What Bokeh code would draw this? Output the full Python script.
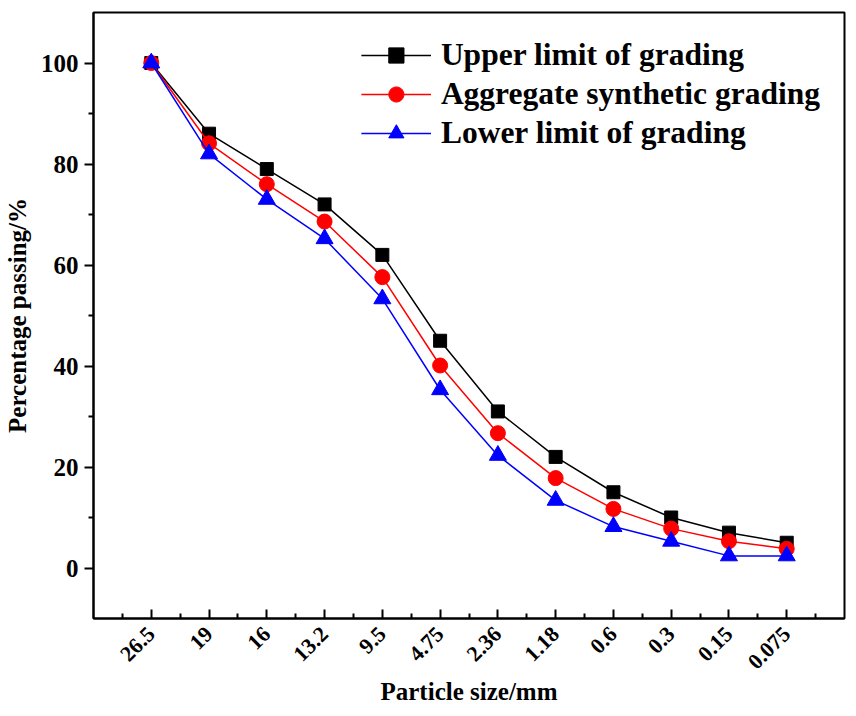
import math
from bokeh.plotting import figure
from bokeh.models import Range1d, FixedTicker, Legend, LegendItem
from bokeh.embed import file_html
from bokeh.resources import INLINE

sizes = ["26.5", "19", "16", "13.2", "9.5", "4.75", "2.36", "1.18", "0.6", "0.3", "0.15", "0.075"]
upper = [100, 86, 79, 72, 62, 45, 31, 22, 15, 10, 7, 5]
synthetic = [100, 84.1, 76, 68.6, 57.6, 40.1, 26.7, 17.8, 11.7, 7.8, 5.3, 3.8]
lower = [100, 82, 73, 65.2, 53.3, 35.3, 22.3, 13.4, 8.2, 5.3, 2.4, 2.4]
y_ticks = [0, 20, 40, 60, 80, 100]

xs = list(range(1, len(sizes) + 1))
FONT = "Liberation Serif"

p = figure(width=846, height=708, output_backend="svg", toolbar_location=None,
           x_range=Range1d(0, 13), y_range=Range1d(-10, 110),
           min_border_left=80, min_border_right=2, min_border_top=12, min_border_bottom=80)
p.grid.visible = False
p.outline_line_color = "black"
p.outline_line_width = 2
p.outline_line_alpha = 1
p.background_fill_color = "white"

l1 = p.line(xs, upper, line_color="black", line_width=1.5)
m1 = p.scatter(xs, upper, marker="square", size=13, fill_color="black", line_color="black")
l2 = p.line(xs, synthetic, line_color="red", line_width=1.5)
m2 = p.scatter(xs, synthetic, marker="circle", size=15, fill_color="red", line_color="red")
l3 = p.line(xs, lower, line_color="blue", line_width=1.5)
m3 = p.scatter(xs, lower, marker="triangle", size=17, fill_color="blue", line_color="blue")

xa = p.xaxis[0]
xa.ticker = FixedTicker(ticks=xs, minor_ticks=[i + 0.5 for i in range(0, 13)])
xa.major_label_overrides = {i + 1: s for i, s in enumerate(sizes)}
xa.major_label_orientation = math.pi / 4
xa.major_tick_in = 9
xa.major_tick_out = 0
xa.minor_tick_in = 5
xa.minor_tick_out = 0
xa.axis_line_width = 2
xa.axis_line_color = "black"
xa.major_tick_line_width = 2
xa.minor_tick_line_width = 2
xa.major_tick_line_color = "black"
xa.minor_tick_line_color = "black"
xa.major_label_text_font = FONT
xa.major_label_text_font_style = "bold"
xa.major_label_text_font_size = "22px"
xa.major_label_text_color = "black"
xa.major_label_standoff = 12
xa.axis_label = "Particle size/mm"
xa.axis_label_text_font = FONT
xa.axis_label_text_font_style = "bold"
xa.axis_label_text_font_size = "25px"
xa.axis_label_text_color = "black"
xa.axis_label_standoff = 0

ya = p.yaxis[0]
ya.ticker = FixedTicker(ticks=y_ticks, minor_ticks=[10, 30, 50, 70, 90])
ya.major_tick_in = 0
ya.major_tick_out = 9
ya.minor_tick_in = 0
ya.minor_tick_out = 5
ya.axis_line_width = 2
ya.axis_line_color = "black"
ya.major_tick_line_width = 2
ya.minor_tick_line_width = 2
ya.major_tick_line_color = "black"
ya.minor_tick_line_color = "black"
ya.major_label_text_font = FONT
ya.major_label_text_font_style = "bold"
ya.major_label_text_font_size = "25px"
ya.major_label_text_color = "black"
ya.major_label_standoff = 6
ya.axis_label = "Percentage passing/%"
ya.axis_label_text_font = FONT
ya.axis_label_text_font_style = "bold"
ya.axis_label_text_font_size = "25px"
ya.axis_label_text_color = "black"
ya.axis_label_standoff = 7

legend = Legend(items=[
    LegendItem(label="Upper limit of grading", renderers=[l1, m1]),
    LegendItem(label="Aggregate synthetic grading", renderers=[l2, m2]),
    LegendItem(label="Lower limit of grading", renderers=[l3, m3]),
], location="top_right")
legend.label_text_font = FONT
legend.label_text_font_style = "bold"
legend.label_text_font_size = "31.5px"
legend.label_text_color = "black"
legend.glyph_width = 70
legend.glyph_height = 38
legend.label_height = 38
legend.label_standoff = 10
legend.spacing = 1
legend.padding = 5
legend.margin = 19
legend.border_line_alpha = 0
legend.background_fill_alpha = 0
p.add_layout(legend)

open("out.html", "w").write(file_html(p, INLINE))
